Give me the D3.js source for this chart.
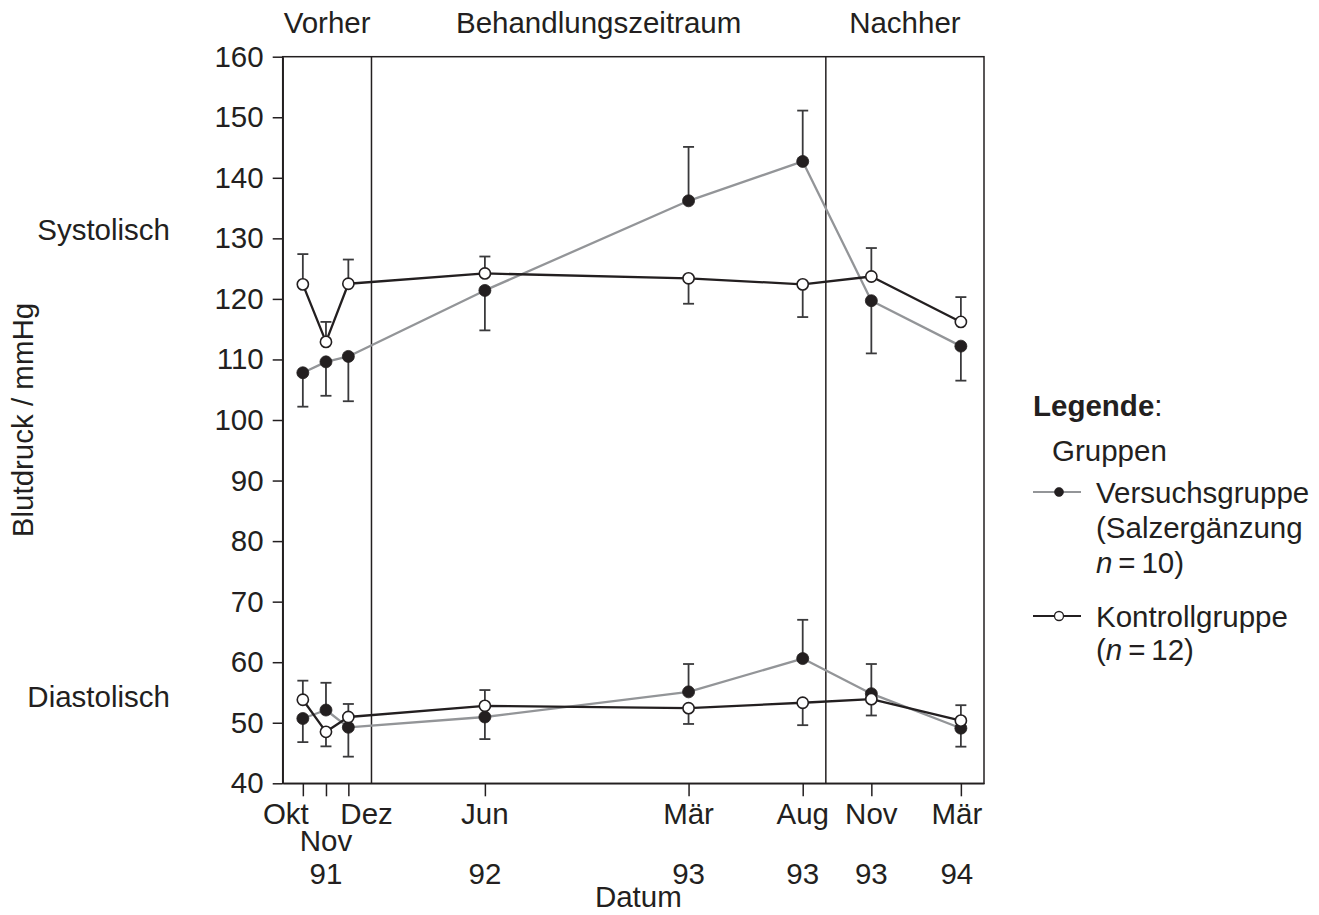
<!DOCTYPE html>
<html>
<head>
<meta charset="utf-8">
<script src="https://cdn.jsdelivr.net/npm/d3@7"></script>
<style>
  html, body { margin: 0; padding: 0; background: #fff; }
  svg { display: block; }
  text { font-family: "Liberation Sans", Arial, sans-serif; fill: #231f20; }
</style>
</head>
<body>
<svg id="chart" width="1319" height="915"></svg>
<script>
// ---------- data ----------
const dates = ["1991-10-01","1991-11-01","1991-12-01","1992-06-01","1993-03-01","1993-08-01","1993-11-01","1994-03-01"];
const monthLabels = ["Okt","Nov","Dez","Jun","Mär","Aug","Nov","Mär"];
const yearLabels = ["91","","","92","93","93","93","94"];
const periodBounds = ["1992-01-01","1993-09-01"];
const periodLabels = ["Vorher","Behandlungszeitraum","Nachher"];
const yTicks = [40,50,60,70,80,90,100,110,120,130,140,150,160];

// Versuchsgruppe (Salzergänzung) – filled markers, grey line
const versuchSys    = [107.8,109.6,110.5,121.4,136.2,142.7,119.7,112.2];
const versuchSysErr = [102.2,104.0,103.1,114.8,145.1,151.1,111.0,106.5];
const versuchDia    = [50.7,52.1,49.25,50.95,55.1,60.6,54.8,49.1];
const versuchDiaErr = [46.8,56.6,44.4,47.3,59.7,67.0,59.7,46.05];
// Kontrollgruppe – open markers, black line
const kontrollSys    = [122.4,112.9,122.5,124.2,123.4,122.4,123.7,116.2];
const kontrollSysErr = [127.4,116.2,126.5,127.0,119.2,117.0,128.4,120.3];
const kontrollDia    = [53.8,48.5,50.95,52.8,52.4,53.3,53.9,50.35];
const kontrollDiaErr = [56.95,46.1,53.1,55.4,49.8,49.6,51.2,52.9];

// ---------- setup ----------
const svg = d3.select("#chart");
const FS = 29.5;
const ink = "#231f20";
const grey = "#939598";
const errCol = "#3a3a3c";
const L = 282.7, R = 984, T = 56.7, B = 783.3;
const parse = d3.utcParse("%Y-%m-%d");

const x = d3.scaleUtc()
  .domain([Date.UTC(1991, 8, 4), Date.UTC(1994, 3, 1)])
  .range([L, R]);
const y = d3.scaleLinear().domain([40, 160]).range([B, T]);

svg.append("rect").attr("width", 1319).attr("height", 915).attr("fill", "#fff");

// frame
svg.append("rect")
  .attr("x", L).attr("y", T).attr("width", R - L).attr("height", B - T)
  .attr("fill", "none").attr("stroke", ink).attr("stroke-width", 1.5);

// y axis
const yAxis = d3.axisLeft(y).tickValues(yTicks).tickSizeInner(10).tickSizeOuter(0).tickPadding(9);
const gy = svg.append("g").attr("transform", `translate(${L},0)`).call(yAxis);
gy.select(".domain").attr("stroke", ink).attr("stroke-width", 1.5);
gy.selectAll(".tick line").attr("stroke", ink).attr("stroke-width", 1.5);
gy.selectAll(".tick text").attr("font-size", FS).attr("font-family", "Liberation Sans, Arial, sans-serif").attr("fill", ink);

// x axis (ticks only, labels custom)
const xDates = dates.map(parse);
const xAxis = d3.axisBottom(x).tickValues(xDates).tickSizeInner(13).tickSizeOuter(0).tickFormat("");
const gx = svg.append("g").attr("transform", `translate(0,${B})`).call(xAxis);
gx.select(".domain").attr("stroke", ink).attr("stroke-width", 1.5);
gx.selectAll(".tick line").attr("stroke", ink).attr("stroke-width", 1.5);

// month labels
const monthG = svg.append("g").attr("font-size", FS);
xDates.forEach((d, i) => {
  let anchor = "middle", dx = 0, yy = 824;
  if (i === 0) { anchor = "end"; dx = 6; }
  if (i === 1) { yy = 851; }
  if (i === 2) { anchor = "start"; dx = -8; }
  if (i === dates.length - 1) { dx = -4; }
  monthG.append("text")
    .attr("x", x(d) + dx).attr("y", yy)
    .attr("text-anchor", anchor).text(monthLabels[i]);
  if (yearLabels[i]) {
    monthG.append("text")
      .attr("x", x(xDates[i === 0 ? 1 : i]) + (i === dates.length - 1 ? -4 : 0))
      .attr("y", 884).attr("text-anchor", "middle").text(yearLabels[i]);
  }
});
svg.append("text").attr("x", (L + R) / 2 + 5).attr("y", 907)
  .attr("font-size", FS).attr("text-anchor", "middle").text("Datum");

// period separators
const bounds = periodBounds.map(parse);
svg.selectAll("line.sep").data(bounds).enter().append("line")
  .attr("x1", d => x(d)).attr("x2", d => x(d)).attr("y1", T).attr("y2", B)
  .attr("stroke", ink).attr("stroke-width", 1.5);
const edges = [x.range()[0], ...bounds.map(x), x.range()[1]];
periodLabels.forEach((t, i) => {
  svg.append("text").attr("x", (edges[i] + edges[i + 1]) / 2).attr("y", 33)
    .attr("font-size", FS).attr("text-anchor", "middle").text(t);
});

// side labels
svg.append("text").attr("x", 170).attr("y", 240).attr("font-size", FS)
  .attr("text-anchor", "end").text("Systolisch");
svg.append("text").attr("x", 170).attr("y", 707).attr("font-size", FS)
  .attr("text-anchor", "end").text("Diastolisch");
svg.append("text").attr("transform", `translate(33,${y(100)}) rotate(-90)`)
  .attr("font-size", FS).attr("text-anchor", "middle").text("Blutdruck / mmHg");

// ---------- series ----------
const series = [
  { vals: versuchSys, err: versuchSysErr, color: grey, filled: true },
  { vals: versuchDia, err: versuchDiaErr, color: grey, filled: true },
  { vals: kontrollSys, err: kontrollSysErr, color: ink, filled: false },
  { vals: kontrollDia, err: kontrollDiaErr, color: ink, filled: false }
];
const line = d3.line().x(d => x(d.date)).y(d => y(d.v));
const toPts = s => s.vals.map((v, i) => ({ date: xDates[i], v, e: s.err[i] }));

// lines
series.forEach(s => {
  svg.append("path").datum(toPts(s)).attr("d", line)
    .attr("fill", "none").attr("stroke", s.color).attr("stroke-width", 2.3)
    .attr("stroke-linejoin", "round");
});
// error bars
const cap = 5.5;
series.forEach(s => {
  const g = svg.append("g").attr("stroke", errCol).attr("stroke-width", 1.8);
  toPts(s).forEach(p => {
    g.append("line").attr("x1", x(p.date)).attr("x2", x(p.date))
      .attr("y1", y(p.v)).attr("y2", y(p.e));
    g.append("line").attr("x1", x(p.date) - cap).attr("x2", x(p.date) + cap)
      .attr("y1", y(p.e)).attr("y2", y(p.e));
  });
});
// markers: filled first, open on top
series.forEach(s => {
  svg.append("g").selectAll("circle").data(toPts(s)).enter().append("circle")
    .attr("cx", d => x(d.date)).attr("cy", d => y(d.v)).attr("r", s.filled ? 6 : 5.6)
    .attr("fill", s.filled ? ink : "#fff")
    .attr("stroke", ink).attr("stroke-width", s.filled ? 0.8 : 1.6);
});

// ---------- legend ----------
const lg = svg.append("g").attr("font-size", FS);
const leg1 = lg.append("text").attr("x", 1033).attr("y", 416);
leg1.append("tspan").attr("font-weight", "bold").text("Legende");
leg1.append("tspan").text(":");
lg.append("text").attr("x", 1052).attr("y", 461).text("Gruppen");

function legendSym(yy, color, filled) {
  lg.append("line").attr("x1", 1033).attr("x2", 1081).attr("y1", yy).attr("y2", yy)
    .attr("stroke", color).attr("stroke-width", 2);
  lg.append("circle").attr("cx", 1059).attr("cy", yy).attr("r", 4.5)
    .attr("fill", filled ? ink : "#fff").attr("stroke", ink).attr("stroke-width", filled ? 0.6 : 1.3);
}
legendSym(492, grey, true);
lg.append("text").attr("x", 1096).attr("y", 503).text("Versuchsgruppe");
lg.append("text").attr("x", 1096).attr("y", 538).text("(Salzergänzung");
const n10 = lg.append("text").attr("x", 1096).attr("y", 573);
n10.append("tspan").attr("font-style", "italic").text("n");
n10.append("tspan").text("\u2009=\u200910)");

legendSym(616, ink, false);
lg.append("text").attr("x", 1096).attr("y", 627).text("Kontrollgruppe");
const n12 = lg.append("text").attr("x", 1096).attr("y", 660);
n12.append("tspan").text("(");
n12.append("tspan").attr("font-style", "italic").text("n");
n12.append("tspan").text("\u2009=\u200912)");
</script>
</body>
</html>
